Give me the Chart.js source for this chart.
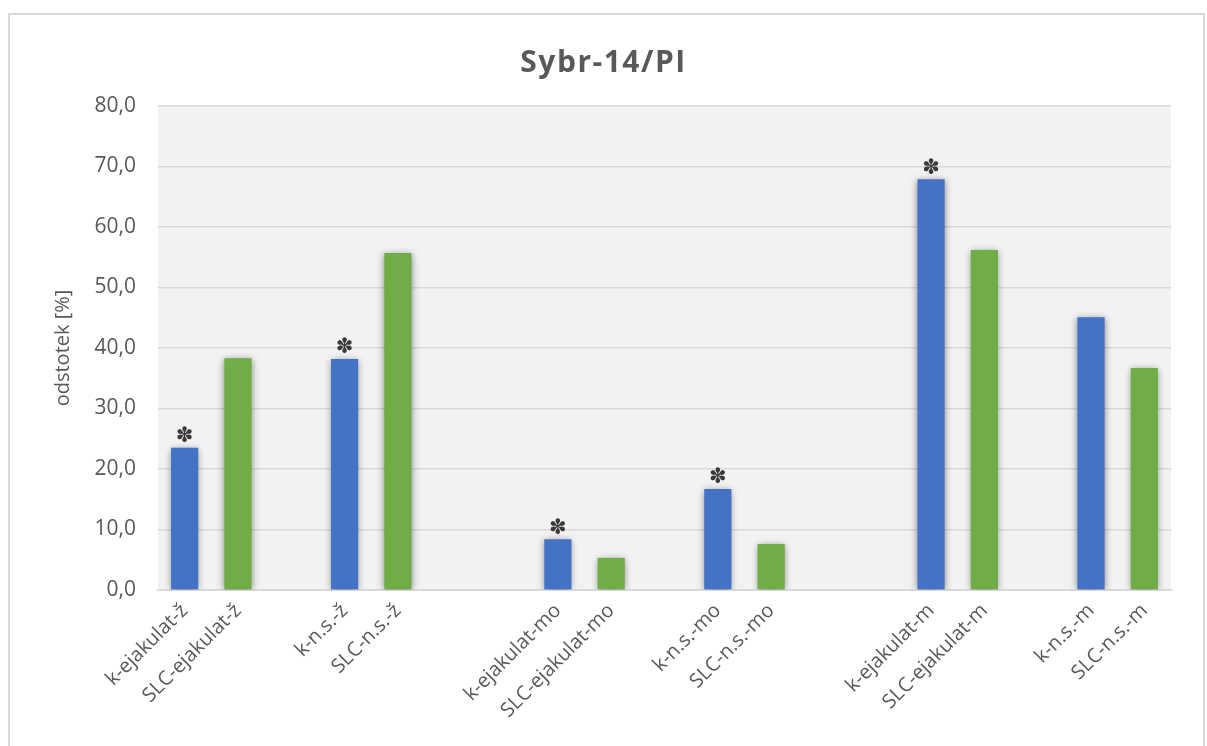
<!DOCTYPE html>
<html>
<head>
<meta charset="utf-8">
<script src="https://cdn.jsdelivr.net/npm/chart.js@4/dist/chart.umd.min.js"></script>
<style>
  html, body { margin: 0; padding: 0; background: #ffffff; overflow: hidden; }
  #frame { position: absolute; left: 8px; top: 13px; width: 1197px; height: 760px;
           border: 2px solid #d9d9d9; box-sizing: border-box; }
  #wrap { position: absolute; left: 0; top: 0; width: 1207px; height: 746px; }
  #title { position: absolute; left: 0; top: 40px; width: 1207px; text-align: center;
           font-family: 'Open Sans', 'Noto Sans', sans-serif; font-weight: bold;
           font-size: 30px; line-height: 41px; letter-spacing: 1.5px; color: #595959; }
</style>
</head>
<body>
<div id="frame"></div>
<div id="wrap"><canvas id="c" width="1207" height="746"></canvas></div>
<div id="title">Sybr-14/PI</div>
<script>
// Categories along the x axis ('' = empty slot separating groups)
const categories = [
  'k-ejakulat-ž', 'SLC-ejakulat-ž', '',
  'k-n.s.-ž', 'SLC-n.s.-ž', '', '',
  'k-ejakulat-mo', 'SLC-ejakulat-mo', '',
  'k-n.s.-mo', 'SLC-n.s.-mo', '', '',
  'k-ejakulat-m', 'SLC-ejakulat-m', '',
  'k-n.s.-m', 'SLC-n.s.-m'
];

// Share of cells [%] per category
const values = [
  23.5, 38.3, null,
  38.2, 55.7, null, null,
  8.4, 5.3, null,
  16.7, 7.6, null, null,
  67.9, 56.2, null,
  45.1, 36.7
];

// Categories marked as significant (asterisk above the bar)
const significant = ['k-ejakulat-ž', 'k-n.s.-ž', 'k-ejakulat-mo', 'k-n.s.-mo', 'k-ejakulat-m'];

const yTicks = [0, 10, 20, 30, 40, 50, 60, 70, 80];

const BLUE = '#4472C4';
const GREEN = '#70AD47';
const TEXT = '#595959';
const FONT = "'Open Sans', 'Noto Sans', sans-serif";

const barColors = categories.map(c => c.startsWith('SLC') ? GREEN : BLUE);

// Grey plot background
const plotBg = {
  id: 'plotBg',
  beforeDraw(chart) {
    const { ctx, chartArea: a } = chart;
    ctx.save();
    ctx.fillStyle = '#f2f2f2';
    ctx.fillRect(a.left, a.top, a.right - a.left, a.bottom - a.top);
    ctx.restore();
  }
};

// Soft shadow under the bars
const barShadow = {
  id: 'barShadow',
  beforeDatasetsDraw(chart) {
    const ctx = chart.ctx;
    ctx.save();
    ctx.shadowColor = 'rgba(0,0,0,0.45)';
    ctx.shadowBlur = 7;
    ctx.shadowOffsetX = 0;
    ctx.shadowOffsetY = 1;
  },
  afterDatasetsDraw(chart) {
    chart.ctx.restore();
  }
};

// Asterisks above significant bars
const stars = {
  id: 'stars',
  afterDatasetsDraw(chart) {
    const ctx = chart.ctx;
    const meta = chart.getDatasetMeta(0);
    ctx.save();
    ctx.fillStyle = '#3a3a3a';
    ctx.font = "bold 21px 'DejaVu Sans'";
    ctx.textAlign = 'center';
    ctx.textBaseline = 'middle';
    categories.forEach((c, i) => {
      if (significant.includes(c)) {
        const el = meta.data[i];
        ctx.fillText('✽', el.x, el.y - 11);
      }
    });
    ctx.restore();
  }
};

new Chart(document.getElementById('c'), {
  type: 'bar',
  data: {
    labels: categories,
    datasets: [{
      data: values,
      backgroundColor: barColors,
      borderWidth: 0,
      categoryPercentage: 1.0,
      barPercentage: 0.51
    }]
  },
  plugins: [plotBg, barShadow, stars],
  options: {
    responsive: false,
    animation: false,
    layout: { padding: { top: 106, right: 36, bottom: 0, left: 0 } },
    plugins: {
      legend: { display: false },
      tooltip: { enabled: false },
      title: { display: false }
    },
    scales: {
      x: {
        afterFit(scale) { scale.height = 156; },
        grid: { display: false, drawTicks: false },
        border: { display: true, color: '#d9d9d9', width: 2 },
        ticks: {
          autoSkip: false,
          maxRotation: 45,
          minRotation: 45,
          padding: 9,
          color: TEXT,
          font: { family: FONT, size: 20 }
        }
      },
      y: {
        min: 0,
        max: 80,
        afterFit(scale) { scale.width = 158; },
        afterBuildTicks(scale) { scale.ticks = yTicks.map(v => ({ value: v })); },
        grid: { color: '#d9d9d9', lineWidth: 1.5, drawTicks: false },
        border: { display: false },
        ticks: {
          padding: 22,
          color: TEXT,
          font: { family: FONT, size: 21 },
          callback: v => v.toFixed(1).replace('.', ',')
        },
        title: {
          display: true,
          text: 'odstotek [%]',
          color: TEXT,
          font: { family: FONT, size: 20 },
          padding: { top: 51, bottom: 0 }
        }
      }
    }
  }
});
</script>
</body>
</html>
